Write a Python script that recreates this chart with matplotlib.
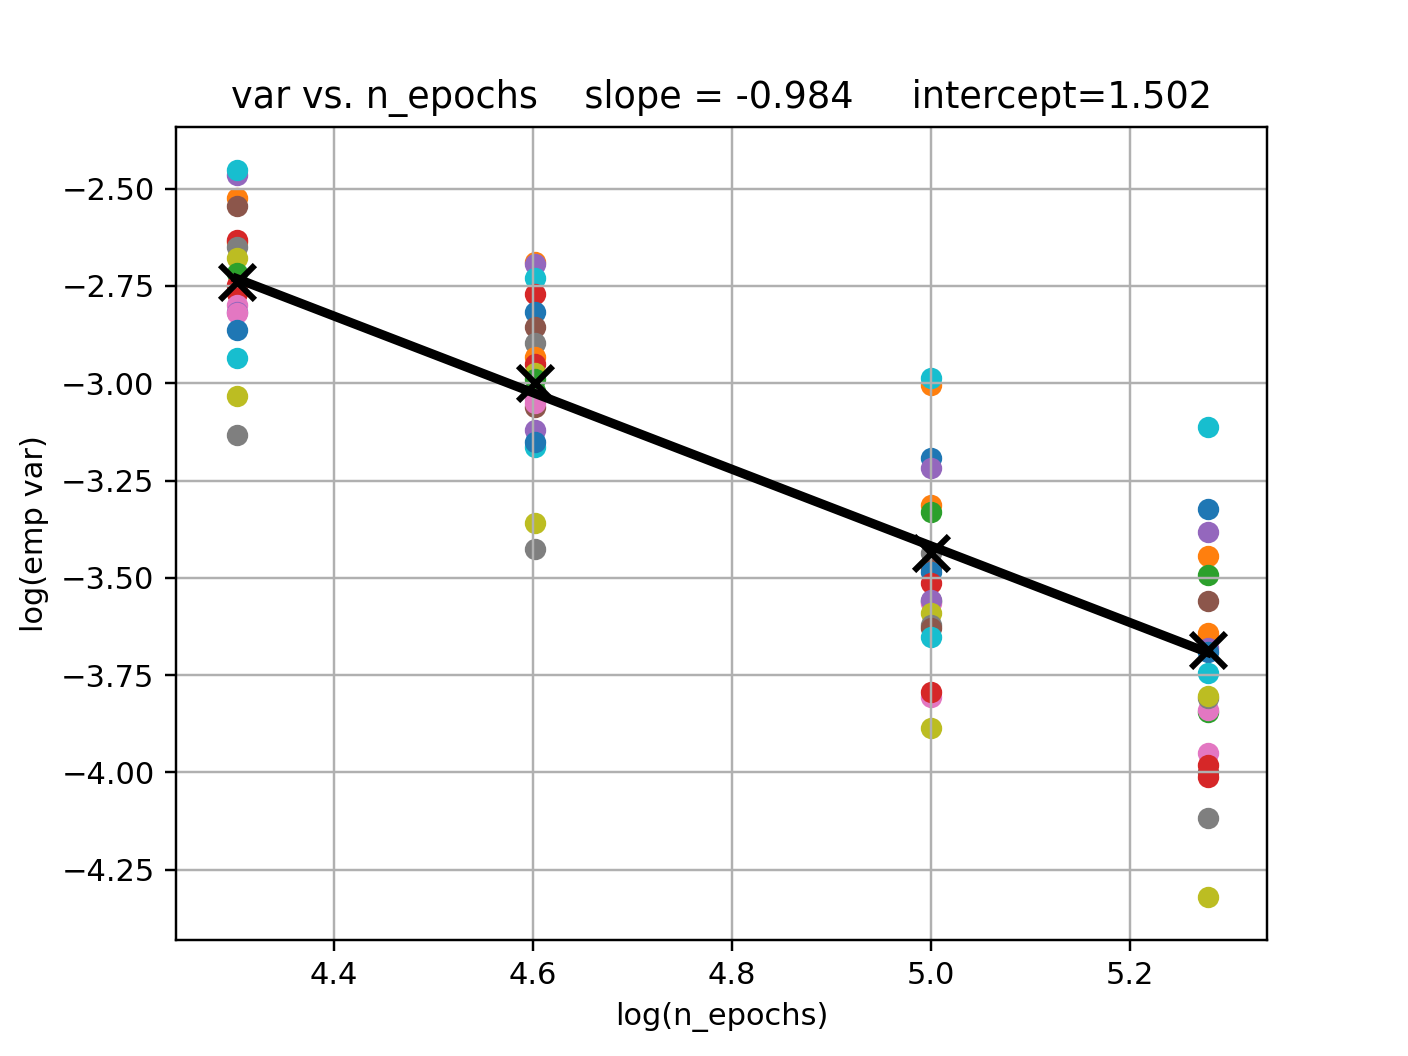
import numpy as np
import matplotlib
matplotlib.use("Agg")
import matplotlib.pyplot as plt

# log(n_epochs) for the four settings
log_epochs = [4.302, 4.602, 5.000, 5.278]

# log(emp var) of every run, with the colour each dot was drawn in
runs_430 = [-2.464, -2.452, -2.523, -2.544, -2.636, -2.631, -2.649, -2.678, -2.716,
            -2.747, -2.765, -2.768, -2.798, -2.816, -2.820, -2.862, -2.934, -3.032, -3.132]
cols_430 = ['C4', 'C9', 'C1', 'C5', 'C1', 'C3', 'C7', 'C8', 'C2',
            'C3', 'C5', 'C3', 'C6', 'C4', 'C6', 'C0', 'C9', 'C8', 'C7']

runs_460 = [-2.688, -2.693, -2.729, -2.772, -2.816, -2.855, -2.896, -2.932, -2.950,
            -2.973, -2.990, -3.020, -3.040, -3.060, -3.050, -3.119, -3.163, -3.150, -3.358, -3.425]
cols_460 = ['C1', 'C4', 'C9', 'C3', 'C0', 'C5', 'C7', 'C1', 'C3',
            'C8', 'C2', 'C2', 'C6', 'C5', 'C6', 'C4', 'C9', 'C0', 'C8', 'C7']

runs_500 = [-3.004, -2.986, -3.191, -3.217, -3.312, -3.330, -3.436, -3.474, -3.484,
            -3.513, -3.560, -3.564, -3.557, -3.590, -3.621, -3.628, -3.651, -3.806, -3.793, -3.885]
cols_500 = ['C1', 'C9', 'C0', 'C4', 'C1', 'C2', 'C7', 'C5', 'C0',
            'C3', 'C2', 'C6', 'C4', 'C8', 'C7', 'C5', 'C9', 'C6', 'C3', 'C8']

runs_528 = [-3.112, -3.322, -3.382, -3.443, -3.492, -3.559, -3.641, -3.680, -3.690,
            -3.744, -3.844, -3.839, -3.808, -3.803, -3.950, -3.998, -3.980, -4.011, -4.116, -4.320]
cols_528 = ['C9', 'C0', 'C4', 'C1', 'C2', 'C5', 'C1', 'C4', 'C0',
            'C9', 'C2', 'C6', 'C7', 'C8', 'C6', 'C5', 'C3', 'C3', 'C7', 'C8']

# mean log(emp var) per setting and the fitted line
mean_var = [-2.739, -3.000, -3.436, -3.685]
slope = -0.984
intercept = 1.502

plt.figure(figsize=(6.4, 4.8), dpi=220)

all_runs = [runs_430, runs_460, runs_500, runs_528]
all_cols = [cols_430, cols_460, cols_500, cols_528]
for x, ys, cs in zip(log_epochs, all_runs, all_cols):
    for y, c in zip(ys, cs):
        plt.scatter(x, y, color=c)

xs = np.array(log_epochs)
plt.plot(xs, slope * xs + intercept, color='black', lw=3)
plt.scatter(log_epochs, mean_var, marker='x', color='black', s=130, linewidths=2, zorder=3)

plt.xlim(4.241, 5.338)
plt.ylim(-4.430, -2.341)
plt.xlabel('log(n_epochs)')
plt.ylabel('log(emp var)')
plt.title(f'var vs. n_epochs    slope = {slope:.3f}     intercept={intercept:.3f}', fontsize=12)
plt.grid(True)

plt.savefig('out.png', dpi=220)
